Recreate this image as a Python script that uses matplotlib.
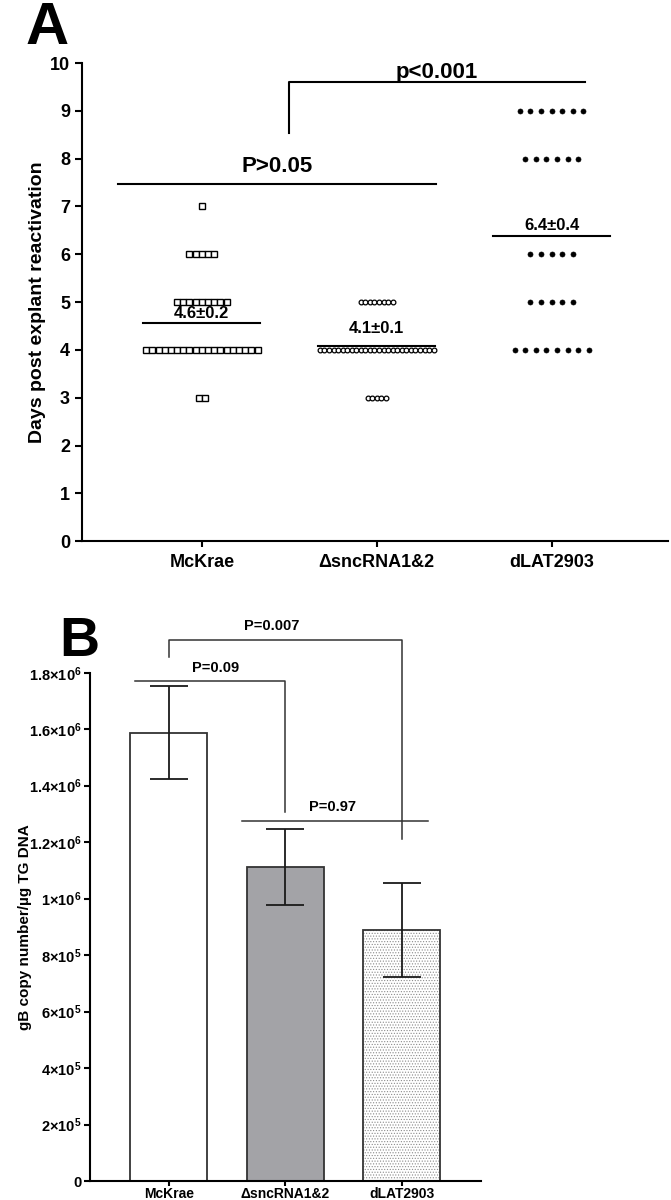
import numpy as np
import matplotlib
matplotlib.use("Agg")
import matplotlib.pyplot as plt
from matplotlib.ticker import FuncFormatter, MultipleLocator

plt.rcParams['font.family'] = ['Liberation Sans', 'DejaVu Sans']
plt.rcParams['font.weight'] = 'bold'
plt.rcParams['mathtext.fontset'] = 'custom'
plt.rcParams['mathtext.rm'] = 'Liberation Sans:bold'
plt.rcParams['mathtext.it'] = 'Liberation Sans:bold'
plt.rcParams['mathtext.bf'] = 'Liberation Sans:bold'
plt.rcParams['hatch.linewidth'] = 0.5

# ----------------------
# Data
# ----------------------
groups = ['McKrae', 'ΔsncRNA1&2', 'dLAT2903']

# Panel A: number of TG reactivating on each day
days = [3, 4, 5, 6, 7, 8, 9]
mckrae_counts = [2, 19, 9, 5, 1, 0, 0]
sncrna_counts = [5, 26, 8, 0, 0, 0, 0]
dlat_counts = [0, 8, 5, 5, 0, 6, 7]
p_a = ['P>0.05', 'p<0.001']

# Panel B: gB copy number / ug TG DNA (mean, SEM)
gb_mean = [1.588e6, 1.112e6, 0.890e6]
gb_sem = [0.165e6, 0.136e6, 0.166e6]
p_b = ['P=0.09', 'P=0.007', 'P=0.97']

fig = plt.figure(figsize=(6.71, 12.0), dpi=100)

# ----------------------
# Panel A
# ----------------------
ax = fig.add_axes([0.122, 0.549, 0.873, 0.3985])
styles = [
    dict(marker='s', mfc='white', mec='black', ms=4.2, mew=1.0),
    dict(marker='o', mfc='white', mec='black', ms=3.4, mew=0.9),
    dict(marker='o', mfc='black', mec='black', ms=3.6, mew=0.5),
]
spacing = [0.0354, 0.026, 0.0606]
label_off = [0.11, 0.27, 0.12]

for i, counts in enumerate([mckrae_counts, sncrna_counts, dlat_counts]):
    xc = i + 1
    for d, n in zip(days, counts):
        if n == 0:
            continue
        xs = xc + (np.arange(n) - (n - 1) / 2) * spacing[i]
        ax.plot(xs, np.full(n, d), ls='none', zorder=3, clip_on=False, **styles[i])
    vals = np.repeat(days, counts)
    m = vals.mean()
    sem = vals.std(ddof=1) / np.sqrt(len(vals))
    ax.plot([xc - 0.335, xc + 0.335], [m, m], color='black', lw=1.5, zorder=2)
    ax.text(xc, m + label_off[i], f"{m:.1f}±{sem:.1f}", ha='center', va='baseline',
            fontsize=12, fontweight='bold')

# significance brackets
ax.plot([0.52, 2.34], [7.47, 7.47], color='black', lw=1.5, clip_on=False)
ax.text(1.43, 7.72, p_a[0], ha='center', va='baseline', fontsize=16, fontweight='bold')
ax.plot([1.5, 1.5, 3.19], [8.54, 9.6, 9.6], color='black', lw=1.5, clip_on=False)
ax.text(2.345, 9.69, p_a[1], ha='center', va='baseline', fontsize=16, fontweight='bold')

ax.set_xlim(0.314, 3.663)
ax.set_ylim(0, 10)
ax.yaxis.set_major_locator(MultipleLocator(1))
ax.set_xticks([1, 2, 3])
ax.set_xticklabels(groups, fontsize=13, fontweight='bold')
ax.tick_params(axis='y', labelsize=13, width=1.5, length=5)
ax.tick_params(axis='x', width=1.5, length=4, pad=5)
for lab in ax.get_yticklabels():
    lab.set_fontweight('bold')
ax.spines[['top', 'right']].set_visible(False)
ax.spines[['left', 'bottom']].set_linewidth(1.5)
ax.set_ylabel('Days post explant reactivation', fontsize=14, fontweight='bold')
ax.yaxis.set_label_coords(-0.061, 0.5)

fig.text(0.07, 0.999, 'A', fontsize=43, fontweight='bold', ha='center', va='top')

# ----------------------
# Panel B
# ----------------------
bx = fig.add_axes([0.134, 0.0158, 0.5827, 0.4236])
xb = np.arange(1, 4)
width = 0.66
bx.bar(xb[0], gb_mean[0], width, color='white', edgecolor='#333333', lw=1.3, zorder=2)
bx.bar(xb[1], gb_mean[1], width, color='#a3a3a7', edgecolor='#333333', lw=1.3, zorder=2)
bx.bar(xb[2], gb_mean[2], width, color='white', edgecolor='#8c8c8c', hatch='......',
       lw=0, zorder=2)
bx.bar(xb[2], gb_mean[2], width, fill=False, edgecolor='#333333', lw=1.3, zorder=2)
bx.errorbar(xb, gb_mean, yerr=gb_sem, fmt='none', ecolor='#1a1a1a', elinewidth=1.3,
            capsize=13.7, capthick=1.3, zorder=3)

bk = dict(color='#333333', lw=1.1, clip_on=False)
bx.plot([0.71, 2, 2], [1.772e6, 1.772e6, 1.306e6], **bk)
bx.text(1.40, 1.804e6, p_b[0], ha='center', va='baseline', fontsize=10.5, fontweight='bold')
bx.plot([1, 1, 3, 3], [1.857e6, 1.917e6, 1.917e6, 1.211e6], **bk)
bx.text(1.88, 1.952e6, p_b[1], ha='center', va='baseline', fontsize=10.5, fontweight='bold')
bx.plot([1.63, 3.23], [1.274e6, 1.274e6], **bk)
bx.text(2.405, 1.31e6, p_b[2], ha='center', va='baseline', fontsize=10.5, fontweight='bold')


def sci_fmt(v, pos):
    if v < 1:
        return '0' if abs(v) < 1 else ''
    e = int(np.floor(np.log10(v) + 1e-9))
    mant = round(v / 10 ** e, 1)
    mtxt = f"{mant:g}"
    return f"${mtxt}{{\\times}}10^{{{e}}}$"


bx.set_xlim(0.323, 3.68)
bx.set_ylim(0, 1.8e6)
bx.yaxis.set_major_locator(MultipleLocator(2e5))
bx.yaxis.set_major_formatter(FuncFormatter(sci_fmt))
bx.set_xticks(xb)
bx.set_xticklabels(groups, fontsize=10, fontweight='bold')
bx.tick_params(axis='y', labelsize=10.5, width=1.5, length=4, pad=2)
bx.tick_params(axis='x', width=1.5, length=3.5, pad=0.5)
bx.spines[['top', 'right']].set_visible(False)
bx.spines[['left', 'bottom']].set_linewidth(1.5)
bx.set_ylabel('gB copy number/µg TG DNA', fontsize=11, fontweight='bold')
bx.yaxis.set_label_coords(-0.148, 0.5)

fig.text(0.118, 0.487, 'B', fontsize=40, fontweight='bold', ha='center', va='top')

fig.savefig('out.png', dpi=100)
